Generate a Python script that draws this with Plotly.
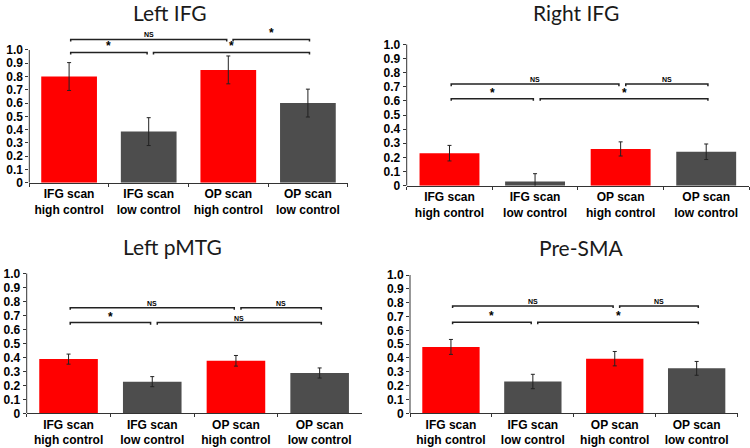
import plotly.graph_objects as go
from plotly.subplots import make_subplots

# --- data ---
categories = ["IFG scan<br>high control", "IFG scan<br>low control",
              "OP scan<br>high control", "OP scan<br>low control"]
panel_titles = ["Left IFG", "Right IFG", "Left pMTG", "Pre-SMA"]

left_ifg = [0.80, 0.385, 0.85, 0.60]
left_ifg_err = [0.105, 0.105, 0.105, 0.105]
right_ifg = [0.23, 0.03, 0.26, 0.24]
right_ifg_err = [0.055, 0.055, 0.05, 0.055]
left_pmtg = [0.387, 0.226, 0.375, 0.288]
left_pmtg_err = [0.036, 0.036, 0.038, 0.036]
pre_sma = [0.48, 0.23, 0.395, 0.325]
pre_sma_err = [0.054, 0.052, 0.052, 0.05]

# significance brackets: (from bar, to bar, height, label)
left_ifg_sig = [(0, 1, 0.982, "*"), (1, 3, 0.982, "*"), (0, 2, 1.08, "NS"), (2, 3, 1.08, "*")]
right_ifg_sig = [(0, 1, 0.615, "*"), (1, 3, 0.615, "*"), (0, 2, 0.719, "NS"), (2, 3, 0.719, "NS")]
left_pmtg_sig = [(0, 1, 0.648, "*"), (1, 3, 0.648, "NS"), (0, 2, 0.754, "NS"), (2, 3, 0.754, "NS")]
pre_sma_sig = [(0, 1, 0.658, "*"), (1, 3, 0.658, "*"), (0, 2, 0.776, "NS"), (2, 3, 0.776, "NS")]

y_ticks = [0, 0.1, 0.2, 0.3, 0.4, 0.5, 0.6, 0.7, 0.8, 0.9, 1.0]
y_ticktext = ["0"] + [f"{v:.1f}" for v in y_ticks[1:]]

bar_colors = ["#ff0000", "#4d4d4d", "#ff0000", "#4d4d4d"]

W, H = 750, 448
# pixel layout of each panel: (x_left, x_right, y_of_zero, y_of_one, y_top_value)
panels = [
    (left_ifg, left_ifg_err, left_ifg_sig, (29.3, 347.7, 182.7, 50.0, 1.15), (170, 12)),
    (right_ifg, right_ifg_err, right_ifg_sig, (406.7, 749.0, 185.7, 44.3, 1.0), (576, 12)),
    (left_pmtg, left_pmtg_err, left_pmtg_sig, (26.7, 361.5, 413.3, 273.3, 1.0), (172, 246)),
    (pre_sma, pre_sma_err, pre_sma_sig, (410.0, 737.6, 413.3, 275.0, 1.0), (581, 247)),
]

fig = make_subplots(rows=2, cols=2)

for k, (vals, errs, sigs, geo, title_pos) in enumerate(panels):
    row, col = k // 2 + 1, k % 2 + 1
    xl, xr, y0px, y1px, ytop = geo
    px_per_unit = y0px - y1px
    top_px = y0px - ytop * px_per_unit
    ax = "" if k == 0 else str(k + 1)

    fig.add_trace(
        go.Bar(
            x=categories, y=vals,
            marker=dict(color=bar_colors, line=dict(width=0)),
            error_y=dict(type="data", array=errs, color="#222222", thickness=1, width=2),
            showlegend=False,
        ),
        row=row, col=col,
    )

    fig.update_xaxes(
        domain=[xl / W, xr / W], type="category", tickson="boundaries",
        ticks="outside", ticklen=3, tickcolor="#333", showline=True, linecolor="#333",
        linewidth=1, showgrid=False, automargin=False,
        tickfont=dict(family="Liberation Sans", size=12, color="black", weight="bold"),
        row=row, col=col,
    )
    fig.update_yaxes(
        domain=[1 - y0px / H, 1 - top_px / H], range=[0, ytop],
        tickvals=y_ticks, ticktext=y_ticktext, ticks="outside", ticklen=3,
        tickcolor="#333", showline=False, showgrid=False, zeroline=False, automargin=False,
        tickfont=dict(family="Liberation Sans", size=12, color="black", weight="bold"),
        row=row, col=col,
    )

    # y axis line only from 0 to 1.0
    fig.add_shape(type="line", xref=f"x{ax} domain", yref=f"y{ax}",
                  x0=0, x1=0, y0=0, y1=1.0, line=dict(color="#333", width=1))

    # significance brackets
    for i, j, lvl, lab in sigs:
        x0 = i + (0.06 if i > 0 else 0.02)
        x1 = j - 0.02 if j < 3 else j + 0.02
        d = 0.015
        fig.add_shape(type="path", xref=f"x{ax}", yref=f"y{ax}",
                      path=f"M {x0} {lvl - d} L {x0} {lvl} L {x1} {lvl} L {x1} {lvl - d}",
                      line=dict(color="#222", width=1.5))
        fig.add_annotation(
            x=(x0 + x1) / 2, y=lvl, xref=f"x{ax}", yref=f"y{ax}",
            text=lab, showarrow=False, yanchor="bottom", yshift=-3 if lab == "*" else -1,
            font=dict(family="Liberation Sans", size=12 if lab == "*" else 7,
                      color="black", weight="bold"),
        )

    fig.add_annotation(
        x=title_pos[0] / W, y=1 - title_pos[1] / H, xref="paper", yref="paper",
        text=panel_titles[k], showarrow=False, xanchor="center", yanchor="middle",
        font=dict(family="Lato", size=21, color="#1a1a1a"),
    )

fig.update_layout(
    width=W, height=H, margin=dict(l=0, r=0, t=0, b=0),
    plot_bgcolor="white", paper_bgcolor="white", bargap=0.3,
)

# page body has a default 8px margin; drop it so the figure fills the window
fig.write_html("out.html", config={"displayModeBar": False},
               post_script="document.body.style.margin='0px';")
